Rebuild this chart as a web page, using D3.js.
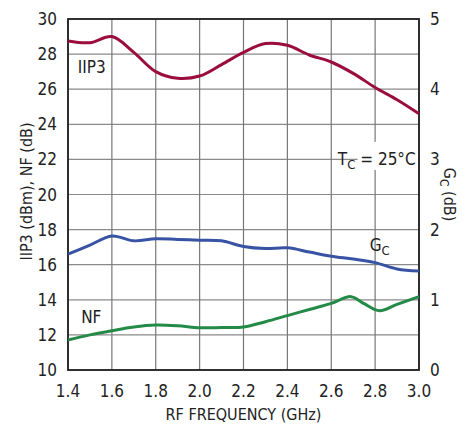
<!DOCTYPE html>
<html>
<head>
<meta charset="utf-8">
<script src="https://cdn.jsdelivr.net/npm/d3@7"></script>
<style>
  body { margin: 0; background: #fff; }
  svg text { font-family: "DejaVu Sans Condensed", "Liberation Sans", sans-serif; font-stretch: condensed; fill: #222; }
</style>
</head>
<body>
<div id="chart"></div>
<script>
// data
var xTicks = [1.4, 1.6, 1.8, 2.0, 2.2, 2.4, 2.6, 2.8, 3.0];
var xTickLabels = ["1.4", "1.6", "1.8", "2.0", "2.2", "2.4", "2.6", "2.8", "3.0"];
var leftTicks = [10, 12, 14, 16, 18, 20, 22, 24, 26, 28, 30];
var rightTicks = [0, 1, 2, 3, 4, 5];

var iip3Freq = [1.4, 1.5, 1.6, 1.7, 1.8, 1.9, 2.0, 2.1, 2.2, 2.3, 2.4, 2.5, 2.6, 2.7, 2.8, 2.9, 3.0];
var iip3 = [28.75, 28.65, 29.0, 28.1, 27.0, 26.62, 26.75, 27.4, 28.1, 28.6, 28.5, 27.95, 27.55, 26.9, 26.1, 25.4, 24.6];

var gcFreq = [1.4, 1.5, 1.6, 1.7, 1.8, 1.9, 2.0, 2.1, 2.2, 2.3, 2.4, 2.5, 2.6, 2.7, 2.8, 2.9, 3.0];
var gc = [1.65, 1.78, 1.91, 1.84, 1.87, 1.86, 1.85, 1.84, 1.76, 1.73, 1.74, 1.68, 1.62, 1.58, 1.53, 1.44, 1.41];

var nfFreq = [1.4, 1.5, 1.6, 1.7, 1.8, 1.9, 2.0, 2.1, 2.2, 2.3, 2.4, 2.5, 2.6, 2.69, 2.75, 2.82, 2.9, 3.0];
var nf = [11.71, 12.0, 12.24, 12.45, 12.56, 12.52, 12.41, 12.42, 12.45, 12.75, 13.1, 13.45, 13.8, 14.18, 13.78, 13.38, 13.74, 14.18];

var width = 465, height = 426;
var margin = {left: 68, right: 46, top: 19, bottom: 56};

var svg = d3.select("#chart").append("svg")
    .attr("width", width)
    .attr("height", height);

var x = d3.scaleLinear().domain([1.4, 3.0]).range([margin.left, width - margin.right]);
var yL = d3.scaleLinear().domain([10, 30]).range([height - margin.bottom, margin.top]);
var yR = d3.scaleLinear().domain([0, 5]).range([height - margin.bottom, margin.top]);

// grid
svg.append("g")
  .selectAll("line")
  .data(leftTicks)
  .join("line")
    .attr("x1", x(1.4)).attr("x2", x(3.0))
    .attr("y1", d => yL(d)).attr("y2", d => yL(d))
    .attr("stroke", "#8a8a8a").attr("stroke-width", 1.2);

svg.append("g")
  .selectAll("line")
  .data(xTicks)
  .join("line")
    .attr("x1", d => x(d)).attr("x2", d => x(d))
    .attr("y1", yL(10)).attr("y2", yL(30))
    .attr("stroke", "#777").attr("stroke-width", 1.2);

// TC label box (covers grid)
var tcG = svg.append("g");
tcG.append("rect")
    .attr("x", x(2.72)).attr("y", yR(3.25))
    .attr("width", x(2.995) - x(2.72)).attr("height", yR(2.85) - yR(3.25))
    .attr("fill", "#fff");
var tc = tcG.append("text")
    .attr("x", x(2.985)).attr("y", yR(3) + 6)
    .attr("text-anchor", "end")
    .style("font-size", "17px");
tc.append("tspan").text("T");
tc.append("tspan").attr("dy", 4).style("font-size", "13px").text("C");
tc.append("tspan").attr("dy", -4).text(" = 25°C");

// frame
svg.append("rect")
    .attr("x", x(1.4)).attr("y", yL(30))
    .attr("width", x(3.0) - x(1.4)).attr("height", yL(10) - yL(30))
    .attr("fill", "none").attr("stroke", "#222").attr("stroke-width", 1.8);

// curves
var lineL = d3.line().x(d => x(d[0])).y(d => yL(d[1])).curve(d3.curveCatmullRom.alpha(0.5));
var lineR = d3.line().x(d => x(d[0])).y(d => yR(d[1])).curve(d3.curveCatmullRom.alpha(0.5));

svg.append("path")
    .datum(d3.zip(iip3Freq, iip3))
    .attr("d", lineL)
    .attr("fill", "none").attr("stroke", "#9b0d3b").attr("stroke-width", 3);

svg.append("path")
    .datum(d3.zip(gcFreq, gc))
    .attr("d", lineR)
    .attr("fill", "none").attr("stroke", "#3853a4").attr("stroke-width", 3);

svg.append("path")
    .datum(d3.zip(nfFreq, nf))
    .attr("d", lineL)
    .attr("fill", "none").attr("stroke", "#238a47").attr("stroke-width", 3);

// tick labels
svg.append("g")
  .selectAll("text")
  .data(leftTicks)
  .join("text")
    .attr("x", margin.left - 11)
    .attr("y", d => yL(d) + 6)
    .attr("text-anchor", "end")
    .style("font-size", "17px")
    .text(d => d);

svg.append("g")
  .selectAll("text")
  .data(rightTicks)
  .join("text")
    .attr("x", width - margin.right + 11)
    .attr("y", d => yR(d) + 6)
    .attr("text-anchor", "start")
    .style("font-size", "17px")
    .text(d => d);

svg.append("g")
  .selectAll("text")
  .data(xTicks)
  .join("text")
    .attr("x", d => x(d))
    .attr("y", yL(10) + 27)
    .attr("text-anchor", "middle")
    .style("font-size", "17px")
    .text((d, i) => xTickLabels[i]);

// axis titles
svg.append("text")
    .attr("x", (x(1.4) + x(3.0)) / 2)
    .attr("y", 420)
    .attr("text-anchor", "middle")
    .style("font-size", "16px")
    .text("RF FREQUENCY (GHz)");

svg.append("text")
    .attr("transform", "translate(32," + (yL(20) - 3) + ") rotate(-90)")
    .attr("text-anchor", "middle")
    .style("font-size", "16px")
    .text("IIP3 (dBm), NF (dB)");

var rt = svg.append("text")
    .attr("transform", "translate(444," + (yR(2.5)) + ") rotate(90)")
    .attr("text-anchor", "middle")
    .style("font-size", "16px");
rt.append("tspan").text("G");
rt.append("tspan").attr("dy", 4).style("font-size", "12px").text("C");
rt.append("tspan").attr("dy", -4).text(" (dB)");

// series labels
svg.append("text")
    .attr("x", x(1.445)).attr("y", yL(26.95))
    .style("font-size", "17px")
    .text("IIP3");

svg.append("text")
    .attr("x", x(1.46)).attr("y", yL(12.7))
    .style("font-size", "17px")
    .text("NF");

var gcl = svg.append("text")
    .attr("x", x(2.775)).attr("y", yR(1.7))
    .style("font-size", "17px");
gcl.append("tspan").text("G");
gcl.append("tspan").attr("dy", 4).style("font-size", "13px").text("C");
</script>
</body>
</html>
